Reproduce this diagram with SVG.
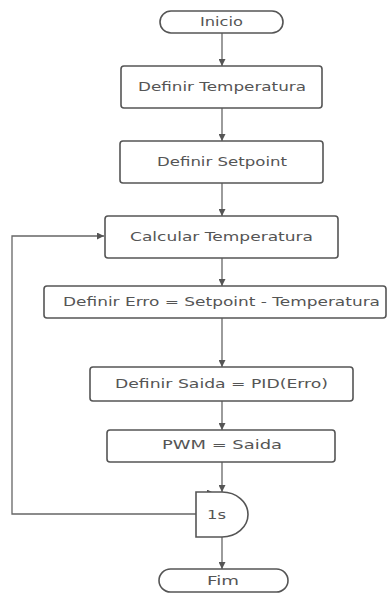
<svg xmlns="http://www.w3.org/2000/svg" width="390" height="603" viewBox="0 0 390 603">
<defs>
<marker id="ah" viewBox="0 0 10 10" refX="10" refY="5" markerWidth="7" markerHeight="7" markerUnits="userSpaceOnUse" orient="auto">
<path d="M0,0 L10,5 L0,10 Z" fill="#555"/>
</marker>
</defs>
<style>
.n{fill:#fff;stroke:#555;stroke-width:1.6}
.t{font-family:"DejaVu Sans","Liberation Sans",Arial,sans-serif;font-size:11.5px;fill:#555;text-anchor:middle}
.c{fill:none;stroke:#666;stroke-width:1.3;marker-end:url(#ah)}
</style>
<rect width="390" height="603" fill="#fff"/>
<g id="connectors">
<path class="c" d="M222,33 V66"/>
<path class="c" d="M222,108 V141"/>
<path class="c" d="M222,183 V216"/>
<path class="c" d="M222,258 V286"/>
<path class="c" d="M222,318 V367"/>
<path class="c" d="M222,401 V430"/>
<path class="c" d="M222,462 V492"/>
<path class="c" d="M222,537 V569"/>
<path class="c" d="M196,514 H12 V236 H104"/>
<path class="c" d="M197,497 V493 H214"/>
</g>
<g id="inicio">
<rect class="n" x="160" y="11" width="123" height="22" rx="11"/>
<text class="t" x="221.5" y="26" textLength="43" lengthAdjust="spacingAndGlyphs">Inicio</text>
</g>
<g id="definir-temperatura">
<rect class="n" x="121" y="66" width="201" height="42" rx="3"/>
<text class="t" x="222" y="91" textLength="168" lengthAdjust="spacingAndGlyphs">Definir Temperatura</text>
</g>
<g id="definir-setpoint">
<rect class="n" x="120" y="141" width="203" height="42" rx="3"/>
<text class="t" x="222" y="166" textLength="130" lengthAdjust="spacingAndGlyphs">Definir Setpoint</text>
</g>
<g id="calcular-temperatura">
<rect class="n" x="105" y="216" width="233" height="42" rx="3"/>
<text class="t" x="221.5" y="241" textLength="183" lengthAdjust="spacingAndGlyphs">Calcular Temperatura</text>
</g>
<g id="definir-erro">
<rect class="n" x="44" y="286" width="342" height="32" rx="3"/>
<text class="t" x="221.5" y="306" textLength="317" lengthAdjust="spacingAndGlyphs">Definir Erro = Setpoint - Temperatura</text>
</g>
<g id="definir-saida">
<rect class="n" x="90" y="367" width="263" height="34" rx="3"/>
<text class="t" x="221.5" y="388" textLength="213" lengthAdjust="spacingAndGlyphs">Definir Saida = PID(Erro)</text>
</g>
<g id="pwm">
<rect class="n" x="107" y="430" width="228" height="32" rx="3"/>
<text class="t" x="222" y="449" textLength="120" lengthAdjust="spacingAndGlyphs">PWM = Saida</text>
</g>
<g id="delay">
<path class="n" d="M196,492 H222 A26,22.5 0 0 1 222,537 H196 Z"/>
<text class="t" x="216.5" y="519" textLength="19" lengthAdjust="spacingAndGlyphs">1s</text>
</g>
<g id="fim">
<rect class="n" x="159" y="569" width="129" height="23" rx="11.5"/>
<text class="t" x="223" y="585" textLength="32" lengthAdjust="spacingAndGlyphs">Fim</text>
</g>
</svg>
